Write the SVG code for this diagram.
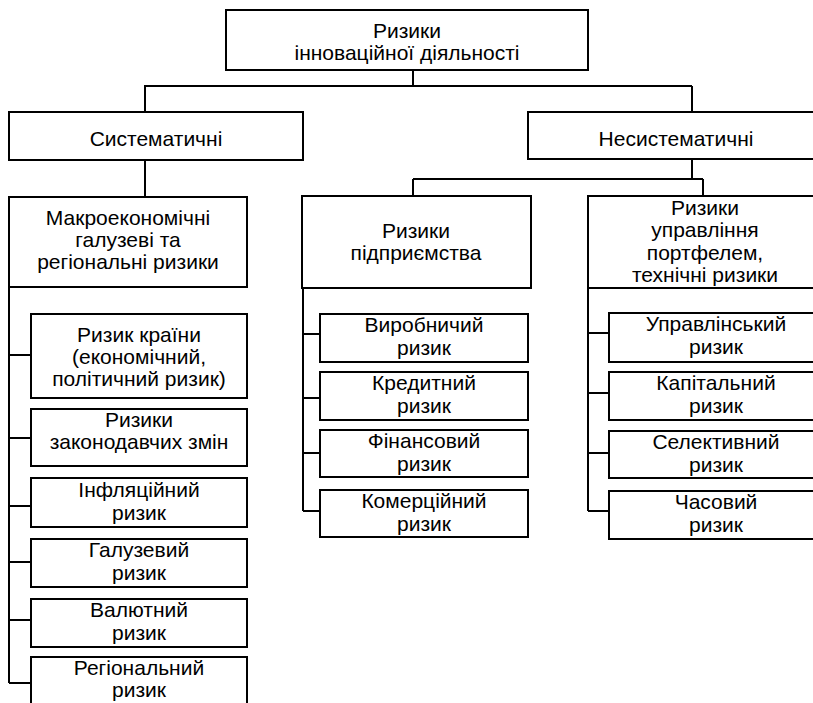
<svg xmlns="http://www.w3.org/2000/svg" width="813" height="703" viewBox="0 0 813 703">
<style>
  .box { fill: #ffffff; stroke: #000000; stroke-width: 2; }
  .ln { fill: none; stroke: #000000; stroke-width: 2; }
  text { font-family: "Liberation Sans", Arial, sans-serif; font-size: 21px; fill: #000000; text-anchor: middle; }
</style>
<rect width="813" height="703" fill="#ffffff"/>
<g id="connectors">
  <path class="ln" d="M413,70 V86 M144,86 H692 M145,86 V112 M692,86 V112"/>
  <path class="ln" d="M145,160 V197"/>
  <path class="ln" d="M692,159 V179 M413,179 H703 M413,179 V196 M703,179 V196"/>
  <path class="ln" d="M9,287 V683 M9,355 H31 M9,438 H31 M9,506 H31 M9,562 H31 M9,620 H31 M9,683 H31"/>
  <path class="ln" d="M303,288 V511 M303,334 H320 M303,398 H320 M303,453 H320 M303,511 H320"/>
  <path class="ln" d="M588,288 V511 M588,333 H609 M588,393 H609 M588,453 H609 M588,511 H609"/>
</g>
<g id="root">
  <rect class="box" x="226" y="10" width="362" height="60"/>
  <text x="407" y="38">Ризики</text>
  <text x="407" y="60">інноваційної діяльності</text>
</g>
<g id="systematic">
  <rect class="box" x="9" y="112" width="294" height="48"/>
  <text x="156" y="146">Систематичні</text>
</g>
<g id="unsystematic">
  <rect class="box" x="528" y="112" width="296" height="47"/>
  <text x="676" y="146">Несистематичні</text>
</g>
<g id="macro">
  <rect class="box" x="9" y="197" width="238" height="90"/>
  <text x="128" y="225">Макроекономічні</text>
  <text x="128" y="247">галузеві та</text>
  <text x="128" y="269">регіональні ризики</text>
</g>
<g id="enterprise">
  <rect class="box" x="302" y="196" width="229" height="92"/>
  <text x="416" y="238">Ризики</text>
  <text x="416" y="260">підприємства</text>
</g>
<g id="portfolio">
  <rect class="box" x="588" y="196" width="236" height="92"/>
  <text x="705" y="215">Ризики</text>
  <text x="705" y="237">управління</text>
  <text x="705" y="260">портфелем,</text>
  <text x="705" y="282">технічні ризики</text>
</g>
<g id="country">
  <rect class="box" x="31" y="314" width="216" height="84"/>
  <text x="139" y="342">Ризик країни</text>
  <text x="139" y="364">(економічний,</text>
  <text x="139" y="386">політичний ризик)</text>
</g>
<g id="law">
  <rect class="box" x="31" y="409" width="216" height="57"/>
  <text x="139" y="427">Ризики</text>
  <text x="139" y="449">законодавчих змін</text>
</g>
<g id="inflation">
  <rect class="box" x="31" y="478" width="216" height="49"/>
  <text x="139" y="497">Інфляційний</text>
  <text x="139" y="520">ризик</text>
</g>
<g id="industry">
  <rect class="box" x="31" y="539" width="216" height="48"/>
  <text x="139" y="557">Галузевий</text>
  <text x="139" y="580">ризик</text>
</g>
<g id="currency">
  <rect class="box" x="31" y="599" width="216" height="48"/>
  <text x="139" y="617">Валютний</text>
  <text x="139" y="640">ризик</text>
</g>
<g id="regional">
  <rect class="box" x="31" y="657" width="216" height="60"/>
  <text x="139" y="675">Регіональний</text>
  <text x="139" y="697">ризик</text>
</g>
<g id="production">
  <rect class="box" x="320" y="314" width="208" height="48"/>
  <text x="424" y="332">Виробничий</text>
  <text x="424" y="355">ризик</text>
</g>
<g id="credit">
  <rect class="box" x="320" y="372" width="208" height="48"/>
  <text x="424" y="390">Кредитний</text>
  <text x="424" y="413">ризик</text>
</g>
<g id="financial">
  <rect class="box" x="320" y="430" width="208" height="47"/>
  <text x="424" y="448">Фінансовий</text>
  <text x="424" y="471">ризик</text>
</g>
<g id="commercial">
  <rect class="box" x="320" y="490" width="208" height="47"/>
  <text x="424" y="508">Комерційний</text>
  <text x="424" y="531">ризик</text>
</g>
<g id="managerial">
  <rect class="box" x="609" y="313" width="214" height="49"/>
  <text x="716" y="331">Управлінський</text>
  <text x="716" y="354">ризик</text>
</g>
<g id="capital">
  <rect class="box" x="609" y="372" width="214" height="48"/>
  <text x="716" y="390">Капітальний</text>
  <text x="716" y="413">ризик</text>
</g>
<g id="selective">
  <rect class="box" x="609" y="431" width="214" height="47"/>
  <text x="716" y="449">Селективний</text>
  <text x="716" y="472">ризик</text>
</g>
<g id="time">
  <rect class="box" x="609" y="491" width="214" height="48"/>
  <text x="716" y="509">Часовий</text>
  <text x="716" y="532">ризик</text>
</g>
</svg>
